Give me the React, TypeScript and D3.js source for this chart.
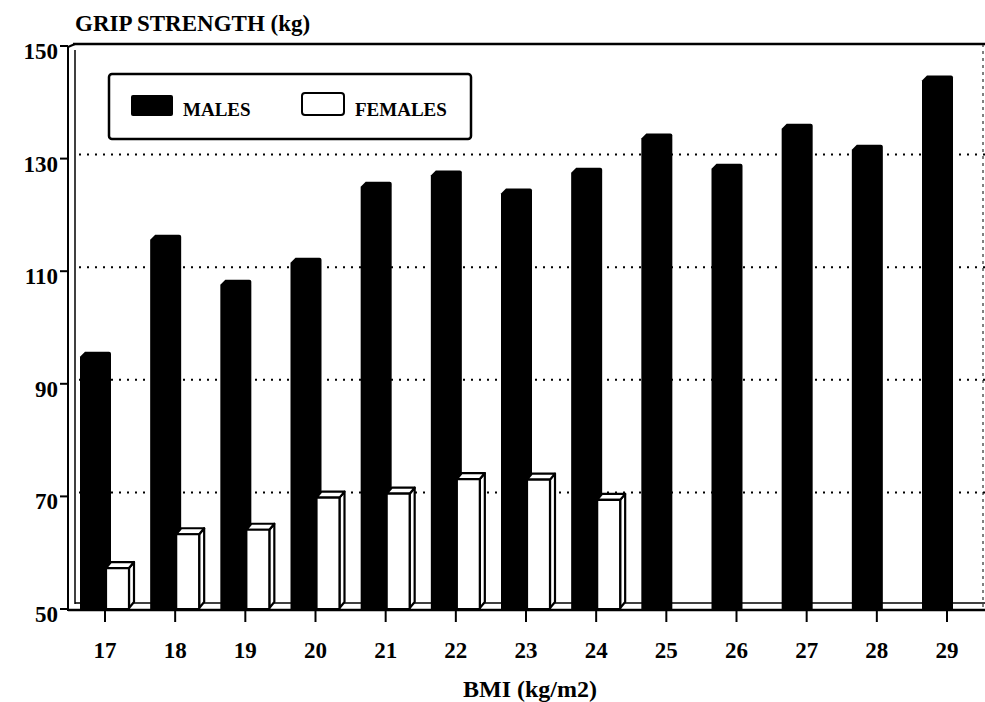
import React from "react";
import * as d3 from "d3";

// BMI categories on the x axis
const bmiCategories = ["17", "18", "19", "20", "21", "22", "23", "24", "25", "26", "27", "28", "29"];
// grip strength (kg)
const maleValues = [95.5, 116.3, 108.3, 112.2, 125.7, 127.7, 124.5, 128.2, 134.3, 128.9, 136, 132.3, 144.6];
const femaleValues = [57.1, 63.1, 63.9, 69.6, 70.3, 72.9, 72.8, 69.2];
const yTicks = [50, 70, 90, 110, 130, 150];
const gridTicks = [70, 90, 110, 130];

const width = 985;
const height = 702;
const font = "'Liberation Serif', 'Times New Roman', serif";

const App: React.FC = () => {
  const x = d3.scalePoint<string>().domain(bmiCategories).range([105, 947]);
  const y = d3.scaleLinear().domain([50, 150]).range([608, 45]);
  const base = y(50);

  const plotLeft = 68;
  const wallLeft = 75;
  const plotRight = 985;

  // 3D depth of the bars
  const dx = 5;
  const dy = 6;

  const maleBar = (cat: string, v: number) => {
    const cx = x(cat) as number;
    const x0 = cx - 25;
    const x1 = cx + 6;
    const top = y(v);
    const p = d3.path();
    p.moveTo(x0, base + 2);
    p.lineTo(x0, top + 5);
    p.lineTo(x0 + 5, top);
    p.lineTo(x1 - 2, top);
    p.quadraticCurveTo(x1, top, x1, top + 2);
    p.lineTo(x1, base + 2);
    p.closePath();
    return p.toString();
  };

  return (
    <svg
      width={width}
      height={height}
      style={{ position: "absolute", left: 0, top: 0, background: "#fff" }}
    >
      {/* title */}
      <text x={75} y={31} fontFamily={font} fontWeight="bold" fontSize={23} fill="#000">
        GRIP STRENGTH (kg)
      </text>

      {/* dotted grid on back wall */}
      {gridTicks.map((t) => (
        <line
          key={"g" + t}
          x1={wallLeft + 4}
          x2={plotRight}
          y1={y(t) - 3}
          y2={y(t) - 3}
          stroke="#000"
          strokeWidth={2}
          strokeDasharray="2,6"
        />
      ))}

      {/* floor */}
      <line x1={wallLeft} x2={plotRight} y1={base - 5} y2={base - 5} stroke="#000" strokeWidth={1.5} />
      <line x1={plotLeft} x2={plotRight} y1={base + 2} y2={base + 2} stroke="#000" strokeWidth={2.5} />

      {/* male bars */}
      {maleValues.map((v, i) => (
        <path key={"m" + i} d={maleBar(bmiCategories[i], v)} fill="#000" />
      ))}

      {/* female bars */}
      {femaleValues.map((v, i) => {
        const cx = x(bmiCategories[i]) as number;
        const x0 = cx + 1;
        const w = 23;
        const top = y(v);
        const side = `M${x0 + w},${top} L${x0 + w + dx},${top - dy} L${x0 + w + dx},${base - dy} L${x0 + w},${base} Z`;
        const lid = `M${x0},${top} L${x0 + dx},${top - dy} L${x0 + w + dx},${top - dy} L${x0 + w},${top} Z`;
        return (
          <g key={"f" + i} stroke="#000" strokeWidth={2.2} fill="#fff" strokeLinejoin="round">
            <path d={side} />
            <path d={lid} />
            <rect x={x0} y={top} width={w} height={base - top + 1} />
          </g>
        );
      })}

      {/* walls and frame */}
      <line x1={plotLeft} x2={plotLeft} y1={47} y2={base + 3} stroke="#000" strokeWidth={2} />
      <line x1={wallLeft} x2={wallLeft} y1={50} y2={base - 4} stroke="#000" strokeWidth={1.5} />
      <line x1={plotLeft} x2={wallLeft} y1={47} y2={44} stroke="#000" strokeWidth={2} />
      <line x1={wallLeft - 2} x2={plotRight} y1={44} y2={44} stroke="#000" strokeWidth={2.5} />
      <line x1={plotRight - 2} x2={plotRight - 2} y1={44} y2={base} stroke="#000" strokeWidth={1} strokeDasharray="3,4" />

      {/* y axis */}
      {yTicks.map((t) => (
        <g key={"y" + t}>
          <line x1={60} x2={plotLeft} y1={y(t) + 1} y2={y(t) + 1} stroke="#000" strokeWidth={2} />
          <text
            x={58}
            y={y(t) + 6}
            dy="0.35em"
            textAnchor="end"
            fontFamily={font}
            fontWeight="bold"
            fontSize={23}
            fill="#000"
          >
            {t}
          </text>
        </g>
      ))}

      {/* x axis */}
      {bmiCategories.map((c) => (
        <g key={"x" + c}>
          <line x1={x(c)} x2={x(c)} y1={base + 3} y2={base + 14} stroke="#000" strokeWidth={2} />
          <text
            x={x(c)}
            y={658}
            textAnchor="middle"
            fontFamily={font}
            fontWeight="bold"
            fontSize={23}
            fill="#000"
          >
            {c}
          </text>
        </g>
      ))}
      <text x={530} y={697} textAnchor="middle" fontFamily={font} fontWeight="bold" fontSize={24} fill="#000">
        BMI (kg/m2)
      </text>

      {/* legend */}
      <rect x={109} y={74} width={362} height={65} rx={3} fill="#fff" stroke="#000" strokeWidth={2.5} />
      <rect x={131} y={95} width={42} height={21} rx={2} fill="#000" />
      <text x={183} y={116} fontFamily={font} fontWeight="bold" fontSize={19} fill="#000">
        MALES
      </text>
      <rect x={302} y={93} width={42} height={22} rx={3} fill="#fff" stroke="#000" strokeWidth={2} />
      <text x={355} y={116} fontFamily={font} fontWeight="bold" fontSize={19} fill="#000">
        FEMALES
      </text>
    </svg>
  );
};

export default App;
